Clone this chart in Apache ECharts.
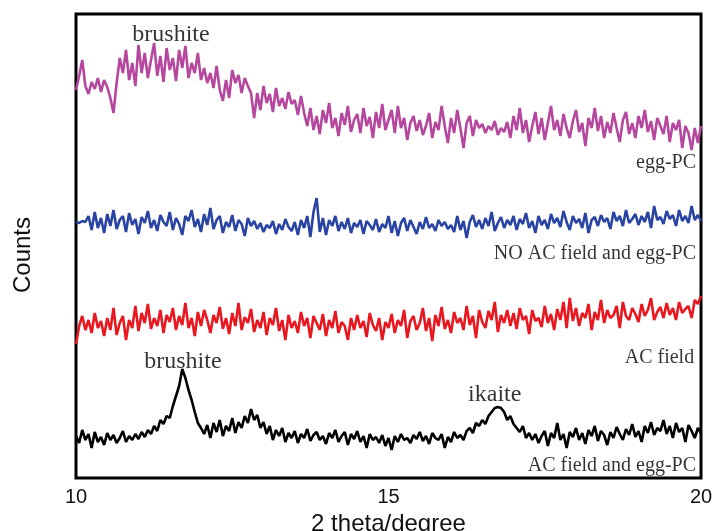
<!DOCTYPE html>
<html>
<head>
<meta charset="utf-8">
<script src="https://cdn.jsdelivr.net/npm/echarts@6/dist/echarts.min.js"></script>
<style>
  html, body { margin: 0; padding: 0; background: #fff; }
  #chart { width: 713px; height: 531px; }
</style>
</head>
<body>
<div id="chart"></div>
<script>
// 2 theta sampling: 10 -> 20 deg, step 0.05 (201 points)
const thetaStart = 10
const thetaStep = 0.05

// counts (arbitrary, offset per trace as in the figure)
const eggPC = [
  388, 402, 418, 392, 384, 396, 389, 400, 386, 398,
  391, 380, 365, 395, 420, 405, 428, 398, 415, 392,
  433, 405, 425, 400, 418, 435, 402, 422, 396, 430,
  408, 420, 397, 428, 410, 432, 400, 415, 405, 425,
  398, 410, 395, 405, 390, 412, 388, 377, 398, 380,
  408, 395, 403, 385, 400, 392, 385, 360, 385, 368,
  392, 375, 384, 366, 390, 372, 380, 369, 386, 374,
  378, 363, 382, 365, 352, 370, 348, 362, 344, 368,
  355, 375, 350, 360, 342, 365, 353, 372, 346, 358,
  364, 345, 370, 352, 361, 340, 366, 350, 374, 348,
  358, 368, 345, 372, 350, 360, 338, 355, 362, 347,
  358, 343, 352, 365, 340, 356, 348, 372, 352, 335,
  360, 345, 368, 350, 330, 355, 362, 342, 358, 350,
  354, 345, 352, 348, 357, 343, 350, 346, 356, 340,
  362, 348, 370, 345, 358, 336, 352, 366, 344, 360,
  338, 355, 372, 348, 358, 342, 364, 350, 340, 357,
  368, 346, 355, 332, 360, 350, 370, 347, 362, 340,
  356, 345, 365, 350, 336, 358, 366, 344, 355, 340,
  362, 350, 368, 346, 357, 338, 360, 352, 344, 362,
  336, 355, 348, 358, 330, 352, 345, 328, 350, 335,
  352
]

const noACeggPC = [
  256, 255, 257, 256, 262, 248, 266, 250, 260, 245,
  264, 252, 268, 249, 258, 262, 246, 265, 253, 259,
  244, 261, 255, 267, 250, 258, 247, 263, 256, 252,
  266, 248, 260, 254, 243, 262, 257, 268, 251, 259,
  246, 264, 253, 270, 249, 258, 262, 245, 256, 251,
  263, 247, 258, 254, 242, 260, 252, 257, 249, 255,
  246, 253, 250, 257, 244, 254, 248, 259, 251, 247,
  256, 243, 258, 250, 262, 241, 266, 280, 246, 260,
  243, 258, 252, 262, 247, 256, 249, 260, 245, 255,
  251, 258, 244, 257, 253, 248, 259, 246, 254, 250,
  262, 245, 257, 242, 255, 260, 247, 258, 251, 244,
  256, 249, 261, 250, 254, 247, 258, 252, 256, 249,
  253, 246, 262, 248, 257, 240, 256, 263, 251, 258,
  249, 260, 252, 266, 247, 255, 261, 250, 258, 253,
  262, 248, 259, 254, 265, 250, 257, 245, 262, 253,
  258, 249, 264, 255, 260, 251, 267, 256, 248, 262,
  255, 259, 250, 265, 245, 258, 261, 252, 263, 256,
  260, 249, 266, 257, 262, 252, 268, 255, 259, 264,
  253, 262, 256, 266, 250, 272, 258, 261, 254, 267,
  259, 263, 252, 268, 257, 262, 255, 272, 258, 263,
  257
]

const acField = [
  134, 152, 162, 148, 158, 145, 165, 150, 157, 142,
  160, 148, 170, 143, 155, 162, 138, 158, 150, 172,
  147, 165, 155, 174, 149, 160, 152, 168, 145, 163,
  156, 170, 148, 162, 153, 175, 150, 160, 142, 166,
  152, 168, 158, 145, 163, 155, 171, 149, 160, 144,
  165, 152, 175, 148, 161, 155, 169, 146, 158, 150,
  166, 143, 160, 153, 170, 147, 158, 138, 163, 150,
  157, 145, 166, 152, 160, 140, 162, 155, 148, 164,
  142, 158, 150, 167, 145, 156, 152, 138, 160, 148,
  163, 150, 157, 141, 165, 153, 147, 160, 138, 156,
  150, 164, 145, 158, 152, 168, 140, 157, 162, 148,
  155, 170, 147, 160, 137, 163, 152, 171, 149, 158,
  145, 166, 155, 160, 148, 172, 153, 162, 140, 168,
  156, 150, 167, 158, 176, 146, 163, 155, 168, 152,
  165, 149, 170, 158, 162, 144, 168, 157, 160, 151,
  172, 155, 164, 148, 169, 158, 176, 150, 180, 157,
  170, 152, 165, 160, 174, 148, 166, 158, 178, 155,
  168, 160, 163, 172, 150, 176, 162, 158, 170, 164,
  156, 174, 162, 168, 180, 158, 166, 171, 160, 175,
  163, 170, 158, 176, 165, 169, 172, 160, 178, 174,
  182
]

const acFieldEggPC = [
  42, 35, 48, 38, 44, 30, 46, 36, 41, 33,
  45, 38, 43, 35, 40, 47, 36, 42, 38, 44,
  39, 46, 41, 48, 44, 52, 47, 58, 54, 62,
  60, 72, 82, 92, 109, 100, 88, 78, 66, 55,
  50, 44, 53, 40, 55, 46, 58, 42, 52, 47,
  60, 45, 56, 50, 62, 55, 69, 58, 63, 50,
  56, 44, 52, 38, 48, 42, 50, 36, 45, 40,
  47, 35, 44, 40, 49, 37, 43, 46, 38, 42,
  34, 45, 40, 48, 36, 42, 46, 33, 44, 39,
  47, 36, 42, 30, 44, 38, 41, 35, 43, 32,
  40, 28, 42, 36, 44, 38, 40, 35, 43, 39,
  46, 37, 42, 34, 45, 40, 38, 44, 30, 41,
  36, 46, 40, 43, 38, 47, 50, 45, 55, 52,
  58, 54, 62, 66, 70, 71, 70, 66, 58, 62,
  54, 50, 46, 52, 40, 45, 38, 44, 35, 42,
  47, 32, 45, 40, 55, 38, 44, 30, 46, 41,
  50, 38, 45, 34, 48, 42, 52, 37, 47, 43,
  33, 46, 40, 51, 44, 38, 49, 43, 54, 41,
  47, 36, 52, 45, 56, 43, 50, 47, 58, 44,
  52, 40, 55, 46, 50, 36, 53, 47, 40, 50,
  45
]

// text notes: [text, 2theta, counts, align, size]
const notes = [
  ['brushite', 11.52, 443, 'center', 24],
  ['egg-PC', 19.92, 315, 'right', 20],
  ['NO AC field and egg-PC', 19.92, 224, 'right', 20],
  ['AC field', 19.89, 120, 'right', 20],
  ['brushite', 11.71, 116, 'center', 24],
  ['ikaite', 16.70, 83, 'center', 24],
  ['AC field and egg-PC', 19.92, 12, 'right', 20]
]

function pairs(vals) {
  return vals.map((v, i) => [+(thetaStart + i * thetaStep).toFixed(2), v])
}

function trace(name, vals, color) {
  return {
    name: name,
    type: 'line',
    data: pairs(vals),
    showSymbol: false,
    symbol: 'none',
    silent: true,
    lineStyle: { color: color, width: 2.6 },
    z: 2
  }
}

const chart = echarts.init(document.getElementById('chart'))
chart.setOption({
  backgroundColor: '#fff',
  animation: false,
  grid: {
    left: 76, right: 12, top: 14, bottom: 53,
    containLabel: false,
    outerBoundsMode: 'none',
    show: true, borderColor: '#000', borderWidth: 3
  },
  graphic: [{
    type: 'text',
    x: 23, y: 255,
    rotation: Math.PI / 2,
    style: {
      text: 'Counts',
      align: 'center',
      verticalAlign: 'middle',
      font: '24px "Liberation Sans"',
      fill: '#111'
    }
  }],
  xAxis: {
    type: 'value',
    min: 10, max: 20, interval: 5,
    name: '2 theta/degree',
    nameLocation: 'middle',
    nameGap: 27,
    nameTextStyle: { fontFamily: 'Liberation Sans', fontSize: 24, color: '#111' },
    axisLine: { show: false },
    axisTick: { show: false },
    splitLine: { show: false },
    axisLabel: { fontFamily: 'Liberation Sans', fontSize: 20, color: '#111', margin: 9 }
  },
  yAxis: {
    type: 'value',
    min: 0, max: 464,
    axisLine: { show: false },
    axisTick: { show: false },
    axisLabel: { show: false },
    splitLine: { show: false }
  },
  series: [
    trace('egg-PC', eggPC, '#b5479f'),
    trace('NO AC field and egg-PC', noACeggPC, '#2a44a3'),
    trace('AC field', acField, '#e81820'),
    trace('AC field and egg-PC', acFieldEggPC, '#000'),
    {
      type: 'scatter',
      symbolSize: 0,
      silent: true,
      z: 5,
      data: notes.map(n => ({
        value: [n[1], n[2]],
        label: {
          show: true,
          position: 'inside',
          formatter: n[0],
          align: n[3],
          verticalAlign: 'middle',
          fontFamily: 'Liberation Serif',
          fontSize: n[4],
          color: '#000',
          textBorderWidth: 0
        }
      }))
    }
  ]
})
</script>
</body>
</html>
